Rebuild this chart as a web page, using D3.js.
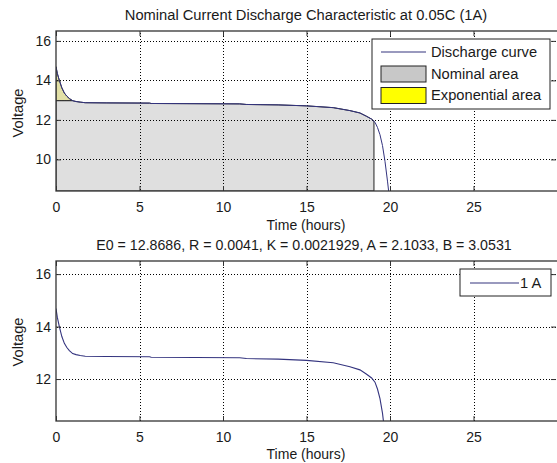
<!DOCTYPE html>
<html>
<head>
<meta charset="utf-8">
<script src="https://cdn.jsdelivr.net/npm/d3@7"></script>
<style>
  html, body { margin: 0; padding: 0; background: #fff; overflow: hidden; }
  svg { display: block; }
  text { font-family: "Liberation Sans", Arial, sans-serif; fill: #1a1a1a; }
</style>
</head>
<body>
<svg id="chart" width="557" height="463"></svg>
<script>
// ---------------- data ----------------
const timeH   = [0, 0.08, 0.2, 0.35, 0.5, 0.65, 0.8, 1.0, 1.2, 1.45, 1.75, 3, 5.6, 5.7, 11.0, 11.4, 13.3, 15.0, 16.6, 17.6, 18.2, 18.6, 18.9, 19.1, 19.25, 19.4, 19.55, 19.7, 19.85, 20.0];
const voltage = [14.69, 14.35, 14.0, 13.62, 13.36, 13.2, 13.08, 12.97, 12.93, 12.9, 12.87, 12.86, 12.85, 12.83, 12.81, 12.78, 12.76, 12.71, 12.62, 12.47, 12.35, 12.18, 12.04, 11.88, 11.62, 11.25, 10.7, 9.9, 8.9, 7.8];

const nominalT = [0, 1.0, 1.2, 1.45, 1.75, 3, 5.6, 5.7, 11.0, 11.4, 13.3, 15.0, 16.6, 17.6, 18.2, 18.6, 18.9, 19.04];
const nominalV = [12.97, 12.97, 12.93, 12.9, 12.87, 12.86, 12.85, 12.83, 12.81, 12.78, 12.76, 12.71, 12.62, 12.47, 12.35, 12.18, 12.04, 11.93];

const expT = [0, 0.08, 0.2, 0.35, 0.5, 0.65, 0.8, 1.0];
const expV = [14.69, 14.35, 14.0, 13.62, 13.36, 13.2, 13.08, 12.97];

const xTicks = [0, 5, 10, 15, 20, 25];
const yTicksTop = [10, 12, 14, 16];
const yTicksBottom = [12, 14, 16];
const xDomain = [0, 30];
const yDomainTop = [8.4, 16.5];
const yDomainBottom = [10.4, 16.5];

const titleText = "Nominal Current Discharge Characteristic at 0.05C (1A)";
const subtitleText = "E0 = 12.8686, R = 0.0041, K = 0.0021929, A = 2.1033, B = 3.0531";
const xLabel = "Time (hours)";
const yLabel = "Voltage";
const legendTop = ["Discharge curve", "Nominal area", "Exponential area"];
const legendBottom = ["1 A"];

// ---------------- drawing ----------------
const svg = d3.select("#chart");
const FONT = 14;
const LFONT = 14.7;
const curveColor = "#34347f";
const axisColor = "#333";
const fmt = d3.format("d");

const left = 56, right = 557;
const x = d3.scaleLinear().domain(xDomain).range([left, right]);

// dotted-line patterns
const defs = svg.append("defs");
const pH = defs.append("pattern").attr("id", "dotH").attr("patternUnits", "userSpaceOnUse")
  .attr("width", 3).attr("height", 1);
pH.append("rect").attr("width", 1).attr("height", 1).attr("fill", "#000");
const pV = defs.append("pattern").attr("id", "dotV").attr("patternUnits", "userSpaceOnUse")
  .attr("width", 1).attr("height", 3);
pV.append("rect").attr("width", 1).attr("height", 1).attr("fill", "#000");

function makePanel(top, bottom, yDomain, id) {
  const y = d3.scaleLinear().domain(yDomain).range([bottom, top]);
  const g = svg.append("g");
  g.append("clipPath").attr("id", id).append("rect")
    .attr("x", left).attr("y", top).attr("width", right - left).attr("height", bottom - top);
  g.append("rect").attr("x", left).attr("y", top).attr("width", right - left).attr("height", bottom - top)
    .attr("fill", "#fff");
  return { y, g, top, bottom };
}

function drawGrid(p, yTicks) {
  const { y, g, top, bottom } = p;
  const gg = g.append("g");
  gg.selectAll("rect.gv").data(xTicks.filter(t => t > xDomain[0])).join("rect")
    .attr("class", "gv")
    .attr("x", d => Math.round(x(d))).attr("y", top).attr("width", 1).attr("height", bottom - top)
    .attr("fill", "url(#dotV)");
  gg.selectAll("rect.gh").data(yTicks).join("rect")
    .attr("class", "gh")
    .attr("x", left).attr("y", d => Math.round(y(d))).attr("width", right - left).attr("height", 1)
    .attr("fill", "url(#dotH)");
}

function drawFrame(p, yTicks) {
  const { y, g, top, bottom } = p;
  const ax = g.append("g").attr("transform", `translate(0,${bottom})`)
    .call(d3.axisBottom(x).tickValues(xTicks).tickFormat(fmt).tickSizeInner(-5).tickSizeOuter(0).tickPadding(11));
  const axT = g.append("g").attr("transform", `translate(0,${top})`)
    .call(d3.axisTop(x).tickValues(xTicks).tickSizeInner(-5).tickSizeOuter(0).tickFormat(""));
  const ay = g.append("g").attr("transform", `translate(${left},0)`)
    .call(d3.axisLeft(y).tickValues(yTicks).tickFormat(fmt).tickSizeInner(-5).tickSizeOuter(0).tickPadding(5));
  const ayR = g.append("g").attr("transform", `translate(${right - 1},0)`)
    .call(d3.axisRight(y).tickValues(yTicks).tickSizeInner(-5).tickSizeOuter(0).tickFormat(""));
  [ax, axT, ay, ayR].forEach(a => {
    a.select(".domain").remove();
    a.selectAll("line").attr("stroke", axisColor).attr("stroke-width", 1);
    a.selectAll("text").attr("font-size", FONT).attr("fill", "#1a1a1a")
      .attr("font-family", '"Liberation Sans", Arial, sans-serif');
  });
  ax.selectAll("text").attr("dy", "0.71em");
  g.append("rect").attr("x", left).attr("y", top).attr("width", right - left + 2).attr("height", bottom - top)
    .attr("fill", "none").attr("stroke", axisColor).attr("stroke-width", 1.3);
}

const curveData = timeH.map((t, i) => [t, voltage[i]]);

// ----- top panel -----
const P1 = makePanel(31, 191, yDomainTop, "clipTop");
{
  const { y, g } = P1;
  const clip = g.append("g").attr("clip-path", "url(#clipTop)");
  const expData = expT.map((t, i) => [t, expV[i]]);
  clip.append("path")
    .attr("d", d3.area().x(d => x(d[0])).y0(y(nominalV[0])).y1(d => y(d[1]))(expData))
    .attr("fill", "#e2e0a6").attr("stroke", "#333").attr("stroke-width", 1);
  const nomData = nominalT.map((t, i) => [t, nominalV[i]]);
  const nomPoly = [[nominalT[0], yDomainTop[0]], ...nomData, [nominalT[nominalT.length - 1], yDomainTop[0]]];
  clip.append("path")
    .attr("d", d3.line().x(d => x(d[0])).y(d => y(d[1]))(nomPoly) + "Z")
    .attr("fill", "#dfdfdf").attr("stroke", "#222").attr("stroke-width", 1);
  drawGrid(P1, yTicksTop);
  g.append("g").attr("clip-path", "url(#clipTop)").append("path")
    .attr("d", d3.line().x(d => x(d[0])).y(d => y(d[1]))(curveData))
    .attr("fill", "none").attr("stroke", curveColor).attr("stroke-width", 1);
}
drawFrame(P1, yTicksTop);

// ----- bottom panel -----
const P2 = makePanel(261, 421, yDomainBottom, "clipBottom");
drawGrid(P2, yTicksBottom);
{
  const { y, g } = P2;
  const clip = g.append("g").attr("clip-path", "url(#clipBottom)");
  clip.append("path")
    .attr("d", d3.line().x(d => x(d[0])).y(d => y(d[1]))(curveData))
    .attr("fill", "none").attr("stroke", curveColor).attr("stroke-width", 1.1);
}
drawFrame(P2, yTicksBottom);

// ----- texts -----
const cx = 306;
svg.append("text").attr("x", cx).attr("y", 20).attr("text-anchor", "middle").attr("font-size", LFONT).text(titleText);
svg.append("text").attr("x", cx).attr("y", 230).attr("text-anchor", "middle").attr("font-size", FONT).text(xLabel);
svg.append("text").attr("x", cx - 2).attr("y", 250).attr("text-anchor", "middle").attr("font-size", 14.2).text(subtitleText);
svg.append("text").attr("x", cx).attr("y", 459).attr("text-anchor", "middle").attr("font-size", FONT).text(xLabel);
svg.append("text").attr("transform", "translate(23,113) rotate(-90)").attr("text-anchor", "middle").attr("font-size", LFONT).text(yLabel);
svg.append("text").attr("transform", "translate(23,342) rotate(-90)").attr("text-anchor", "middle").attr("font-size", LFONT).text(yLabel);

// ----- legends -----
{
  const lg = svg.append("g");
  lg.append("rect").attr("x", 372).attr("y", 39).attr("width", 178).attr("height", 70)
    .attr("fill", "#fff").attr("stroke", "#222").attr("stroke-width", 1);
  lg.append("line").attr("x1", 381).attr("x2", 426).attr("y1", 52).attr("y2", 52)
    .attr("stroke", curveColor).attr("stroke-width", 1.2);
  lg.append("rect").attr("x", 381).attr("y", 66).attr("width", 45).attr("height", 16)
    .attr("fill", "#c8c8c8").attr("stroke", "#222");
  lg.append("rect").attr("x", 381).attr("y", 87.5).attr("width", 45).attr("height", 16)
    .attr("fill", "#ffff00").attr("stroke", "#222");
  const ys = [57, 79, 100];
  legendTop.forEach((s, i) => lg.append("text").attr("x", 431).attr("y", ys[i]).attr("font-size", LFONT).text(s));

  const lb = svg.append("g");
  lb.append("rect").attr("x", 460).attr("y", 269).attr("width", 91).attr("height", 27)
    .attr("fill", "#fff").attr("stroke", "#222").attr("stroke-width", 1);
  lb.append("line").attr("x1", 470).attr("x2", 519).attr("y1", 283).attr("y2", 283)
    .attr("stroke", curveColor).attr("stroke-width", 1.2);
  lb.append("text").attr("x", 520).attr("y", 288).attr("font-size", LFONT).text(legendBottom[0]);
}
</script>
</body>
</html>
